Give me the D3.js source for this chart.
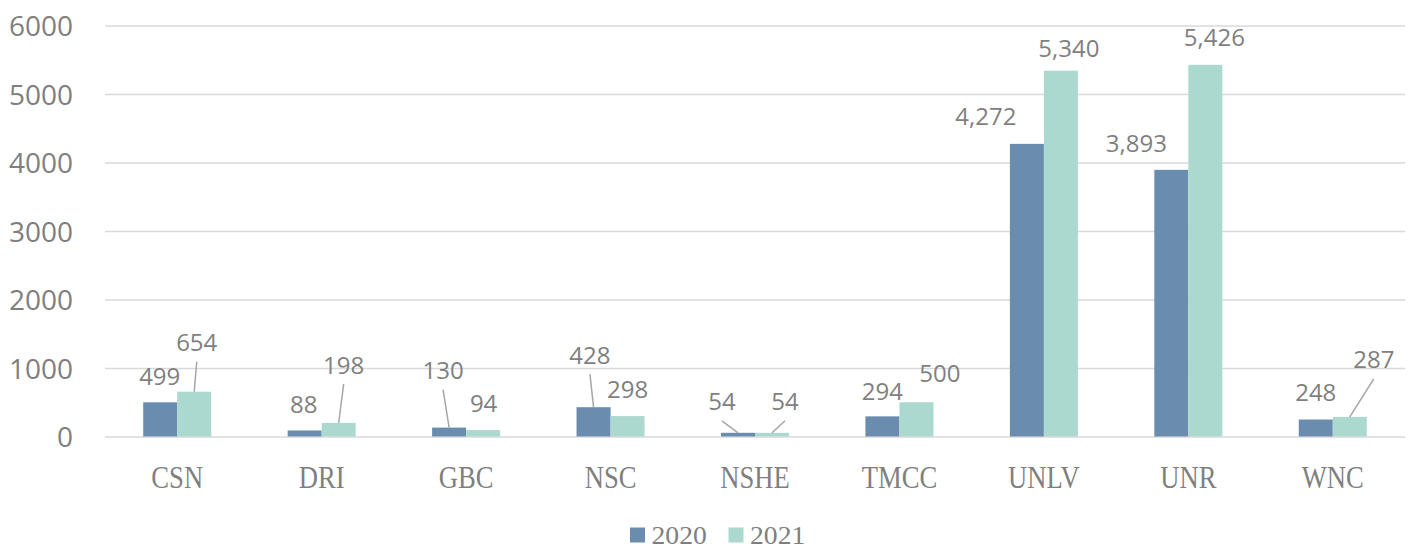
<!DOCTYPE html>
<html>
<head>
<meta charset="utf-8">
<script src="https://cdn.jsdelivr.net/npm/d3@7"></script>
<style>
  html, body { margin: 0; padding: 0; background: #ffffff; }
  svg { display: block; }
</style>
</head>
<body>
<svg id="chart" width="1413" height="546"></svg>
<script>
// ---- data ----
const categories = ["CSN", "DRI", "GBC", "NSC", "NSHE", "TMCC", "UNLV", "UNR", "WNC"];
const seriesNames = ["2020", "2021"];
const values2020 = [499, 88, 130, 428, 54, 294, 4272, 3893, 248];
const values2021 = [654, 198, 94, 298, 54, 500, 5340, 5426, 287];
const yTicks = [0, 1000, 2000, 3000, 4000, 5000, 6000];

// ---- layout / style (not data) ----
const colors = { "2020": "#6a8daf", "2021": "#acd9cf" };
const textGray = "#7f7f7f";
const gridColor = "#d9d9d9";
const plot = { left: 105, right: 1405, top: 25.5, bottom: 436.5 };
// label placement relative to bar top centre: [dx, dy, leader]
const labelLayout = {
  "2020": [[-0.5,-26,0],[-1,-26.5,0],[-6,-57,1],[-3.6,-52,1],[-16,-31,1],[0,-25,0],[-41,-27,0],[-35,-26.5,0],[0,-27,0]],
  "2021": [[2.5,-49,1],[5,-58,1],[0.5,-27,0],[0,-27,0],[13,-31,1],[23.5,-29,0],[8,-22,0],[9,-27,0],[24,-57,1]]
};

const rows = categories.map((c, i) => ({ cat: c, "2020": values2020[i], "2021": values2021[i], i }));

const svg = d3.select("#chart");

const x0 = d3.scaleBand().domain(categories).range([plot.left, plot.right])
  .paddingInner(0.529).paddingOuter(0.2645);
const x1 = d3.scaleBand().domain(seriesNames).range([0, x0.bandwidth()]);
const y = d3.scaleLinear().domain([0, 6000]).range([plot.bottom, plot.top]);

// gridlines + y tick labels
const yAxis = d3.axisLeft(y).tickValues(yTicks).tickFormat(d3.format("d"))
  .tickSize(-(plot.right - plot.left)).tickPadding(32);
const gy = svg.append("g").attr("transform", `translate(${plot.left},0)`).call(yAxis);
gy.select(".domain").remove();
gy.selectAll(".tick line").attr("stroke", gridColor).attr("stroke-width", 1.6);
gy.selectAll(".tick text")
  .attr("fill", textGray)
  .attr("font-family", "'Open Sans', sans-serif")
  .attr("font-size", 28)
  .attr("dy", "0.36em");

// bars
const groups = svg.append("g").selectAll("g").data(rows).join("g")
  .attr("transform", d => `translate(${x0(d.cat)},0)`);

groups.selectAll("rect").data(d => seriesNames.map(s => ({ s, v: d[s], i: d.i }))).join("rect")
  .attr("x", d => x1(d.s))
  .attr("y", d => y(d.v))
  .attr("width", x1.bandwidth())
  .attr("height", d => y(0) - y(d.v))
  .attr("fill", d => colors[d.s]);

// data labels and leader lines
const fmt = d3.format(",");
const labelG = svg.append("g");
seriesNames.forEach(s => {
  rows.forEach(r => {
    const v = r[s];
    const bx = x0(r.cat) + x1(s) + x1.bandwidth() / 2;
    const by = y(v);
    const [dx, dy, leader] = labelLayout[s][r.i];
    const cx = bx + dx, cy = by + dy;
    if (leader) {
      labelG.append("line")
        .attr("x1", cx).attr("y1", cy + 19)
        .attr("x2", bx).attr("y2", by)
        .attr("stroke", "#a6a6a6").attr("stroke-width", 1.5);
    }
    labelG.append("text")
      .attr("x", cx).attr("y", cy + 8.6)
      .attr("text-anchor", "middle")
      .attr("fill", textGray)
      .attr("font-family", "'Open Sans', sans-serif")
      .attr("font-size", 24)
      .text(fmt(v));
  });
});

// category labels
const catG = svg.append("g");
categories.forEach(c => {
  catG.append("text")
    .attr("transform", `translate(${x0(c) + x0.bandwidth() / 2},488.3) scale(0.82,1)`)
    .attr("text-anchor", "middle")
    .attr("fill", textGray)
    .attr("font-family", "'Liberation Serif', serif")
    .attr("font-size", 32.5)
    .text(c);
});

// legend
const legendItems = [{ s: "2020", x: 630 }, { s: "2021", x: 728.5 }];
const lg = svg.append("g");
legendItems.forEach(it => {
  lg.append("rect").attr("x", it.x).attr("y", 527.5).attr("width", 15).attr("height", 15)
    .attr("fill", colors[it.s]);
  lg.append("text")
    .attr("transform", `translate(${it.x + 21.5},544.3) scale(1.12,1)`)
    .attr("fill", textGray)
    .attr("font-family", "'Liberation Serif', serif")
    .attr("font-size", 24.7)
    .text(it.s);
});
</script>
</body>
</html>
